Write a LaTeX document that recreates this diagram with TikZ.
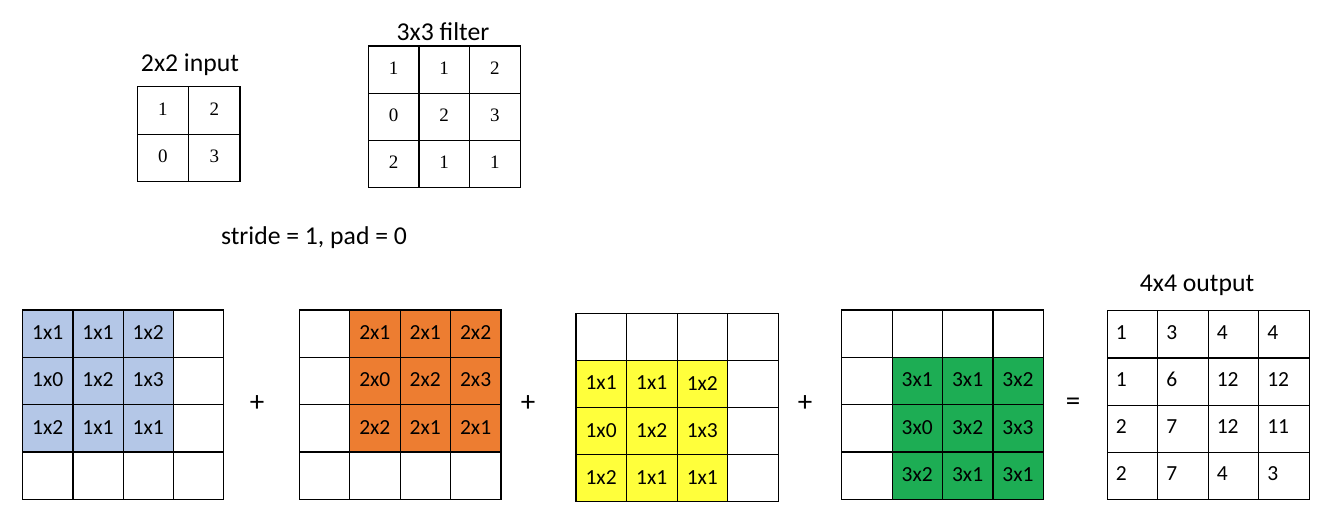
\documentclass[tikz,border=0pt]{standalone}
\usepackage{fontspec}
\newfontfamily\calibri{Carlito}
\newfontfamily\cambria{Liberation Serif}
\definecolor{cblue}{RGB}{180,199,231}
\definecolor{corange}{RGB}{237,125,49}
\definecolor{cyellow}{RGB}{255,255,59}
\definecolor{cgreen}{RGB}{29,173,84}
\newcommand\gridlines[5]{% x0 y0 w h n
  \foreach \i in {0,...,#5}{
    \draw[gridline] (#1+\i*#3, #2) -- (#1+\i*#3, #2+#5*#4);
    \draw[gridline] (#1, #2+\i*#4) -- (#1+#5*#3, #2+\i*#4);
  }}
\begin{document}
\begin{tikzpicture}[x=1pt,y=-1pt,
  gridline/.style={draw=black, line width=1.2pt, line cap=rect},
  cellbox/.style={minimum width=50.2pt, minimum height=47.3pt,
    inner sep=0pt, outer sep=0pt, anchor=north west},
  numcell/.style={cellbox, font=\cambria\fontsize{19}{19}\selectfont},
  prodcell/.style={cellbox, font=\calibri\fontsize{21.5}{21.5}\selectfont},
  outcell/.style={cellbox, font=\calibri\fontsize{21.5}{21.5}\selectfont, text width=33.5pt,
    inner xsep=8.5pt, align=left},
  title/.style={font=\calibri\fontsize{25.7}{25.7}\selectfont, anchor=base},
  opsign/.style={font=\calibri\fontsize{29}{29}\selectfont},
]
\useasboundingbox (0,0) rectangle (1326,520);

% 2x2 input
\foreach \r/\c/\v in {0/0/1,0/1/2,1/0/0,1/1/3}
  \node[numcell, minimum width=51.3pt, minimum height=47.5pt] (in-\r-\c) at (137.3+\c*51.3, 86.7+\r*47.5) {\raisebox{3pt}{\v}};
\gridlines{137.3}{86.7}{51.3}{47.5}{2}
\node[title] (intitle) at (190,71.7) {2x2 input};

% 3x3 filter
\foreach \r/\c/\v in {0/0/1,0/1/1,0/2/2,1/0/0,1/1/2,1/2/3,2/0/2,2/1/1,2/2/1}
  \node[numcell, minimum width=50.6pt, minimum height=47.2pt] (f-\r-\c) at (368.3+\c*50.6, 46+\r*47.2) {\raisebox{3pt}{\v}};
\gridlines{368.3}{46}{50.6}{47.2}{3}
\node[title] (ftitle) at (443,40.7) {3x3 filter};

\node[title] (stride) at (314,244) {stride = 1, pad = 0};

% filled windows
\foreach \s [count=\i from 0] in {1,1,2,0,2,3,2,1,1}{
  \pgfmathtruncatemacro\rr{int(\i/3)}
  \pgfmathtruncatemacro\cc{mod(\i,3)}
  \node[prodcell, fill=cblue] (p1-\rr-\cc) at (22.7+\cc*50.2, 310+\rr*47.3) {\raisebox{2pt}{1x\s}};
  \node[prodcell, fill=corange] (p2-\rr-\cc) at (299.3+50.4+\cc*50.4, 310+\rr*47.3) {\raisebox{2pt}{2x\s}};
  \node[prodcell, fill=cyellow] (p3-\rr-\cc) at (576+\cc*50.6, 313.3+47.1+\rr*47.1) {\raisebox{2pt}{1x\s}};
  \node[prodcell, fill=cgreen] (p4-\rr-\cc) at (841.7+50.4+\cc*50.4, 310+47.3+\rr*47.3) {\raisebox{2pt}{3x\s}};
}
\gridlines{22.7}{310}{50.2}{47.3}{4}
\gridlines{299.3}{310}{50.4}{47.3}{4}
\gridlines{576}{313.3}{50.6}{47.1}{4}
\gridlines{841.7}{310}{50.4}{47.3}{4}

% operators
\node[opsign] (plus1) at (257,404) {+};
\node[opsign] (plus2) at (528,404) {+};
\node[opsign] (plus3) at (805,404) {+};
\node[opsign] (eq) at (1073,404) {=};

% output
\foreach \r/\c/\v in {0/0/1,0/1/3,0/2/4,0/3/4,
                      1/0/1,1/1/6,1/2/12,1/3/12,
                      2/0/2,2/1/7,2/2/12,2/3/11,
                      3/0/2,3/1/7,3/2/4,3/3/3}
  \node[outcell, minimum width=50.5pt, minimum height=47.2pt] (o-\r-\c) at (1107.3+\c*50.5, 310.7+\r*47.2) {\raisebox{4pt}{\v}};
\gridlines{1107.3}{310.7}{50.5}{47.2}{4}
\node[title] (otitle) at (1197,291.7) {4x4 output};
\end{tikzpicture}
\end{document}
